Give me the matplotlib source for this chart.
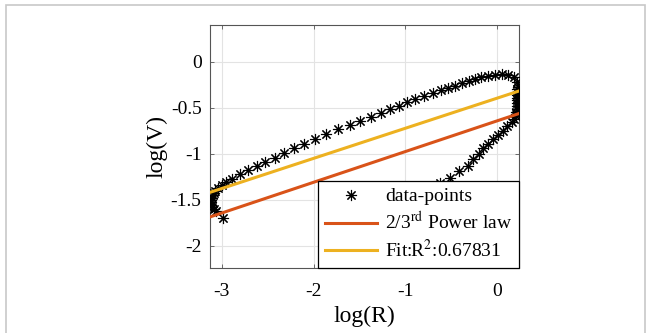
import matplotlib
matplotlib.use("Agg")
import matplotlib.pyplot as plt
from matplotlib.lines import Line2D
from matplotlib.patches import Rectangle

plt.rcParams["font.family"] = "Liberation Serif"
plt.rcParams["mathtext.fontset"] = "stix"
plt.rcParams["axes.unicode_minus"] = False

# data points (loop traced around)
log_r = [
    -3.06, -3.09, -3.11, -3.12, -3.12, -3.12, -3.11, -3.10, -3.09, -3.07,
    -3.04, -3.00, -2.95, -2.89, -2.80, -2.71, -2.62, -2.53, -2.42, -2.32,
    -2.21, -2.10, -1.99, -1.86, -1.73, -1.60, -1.49, -1.37, -1.27, -1.17,
    -1.07, -0.985, -0.89, -0.80, -0.70, -0.61, -0.53, -0.46, -0.385, -0.31,
    -0.24, -0.17, -0.095, -0.02, 0.05, 0.12, 0.185, 0.22, 0.23,
    0.22, 0.215, 0.215, 0.215, 0.215, 0.215, 0.215, 0.215, 0.21, 0.21, 0.205,
    0.19, 0.16, 0.11, 0.06, 0.015, -0.04, -0.095, -0.15, -0.20, -0.26,
    -0.32, -0.41, -0.51, -0.62, -0.75, -0.95, -1.25, -1.65, -2.99,
]
log_v = [
    -1.62, -1.60, -1.575, -1.55, -1.525, -1.50, -1.475, -1.45, -1.425, -1.40,
    -1.37, -1.34, -1.31, -1.27, -1.22, -1.18, -1.13, -1.09, -1.04, -0.99,
    -0.94, -0.89, -0.84, -0.78, -0.73, -0.685, -0.64, -0.60, -0.555, -0.515,
    -0.475, -0.44, -0.40, -0.366, -0.337, -0.31, -0.28, -0.26, -0.235, -0.21,
    -0.185, -0.17, -0.15, -0.14, -0.135, -0.145, -0.17, -0.215, -0.27,
    -0.30, -0.33, -0.36, -0.39, -0.42, -0.45, -0.48, -0.51, -0.54, -0.565, -0.59,
    -0.62, -0.655, -0.70, -0.75, -0.79, -0.84, -0.89, -0.94, -1.00, -1.06,
    -1.13, -1.19, -1.26, -1.315, -1.40, -1.48, -1.56, -1.65, -1.70,
]

# fitted lines (end points)
line_r = [-3.13, 0.23]
power_law_v = [-1.685, -0.565]
fit_v = [-1.418, -0.32]

xticks = [-3, -2, -1, 0]
yticks = [-2, -1.5, -1, -0.5, 0]

fig = plt.figure(figsize=(6.5, 3.33), dpi=100)
fig.patches.append(Rectangle((6 / 650, -0.1), 639 / 650, 1.1 - 5 / 333,
                             transform=fig.transFigure, fill=False,
                             edgecolor="#c8c8c8", linewidth=1.2))
ax = fig.add_axes([0.323, 0.195, 0.4755, 0.730])

star = (8, 2, 0)
ax.plot(log_r, log_v, linestyle="none", marker=star, markersize=8,
        markeredgewidth=0.8, color="black", zorder=3)
ax.plot(line_r, power_law_v, color="#D95319", linewidth=2.2, zorder=4)
ax.plot(line_r, fit_v, color="#EDB120", linewidth=2.2, zorder=4)

ax.set_xlim(-3.13, 0.24)
ax.set_ylim(-2.24, 0.4)
ax.set_xticks(xticks)
ax.set_yticks(yticks)
ax.set_xticklabels(["-3", "-2", "-1", "0"])
ax.set_yticklabels(["-2", "-1.5", "-1", "-0.5", "0"])
ax.tick_params(direction="in", top=True, right=True, length=3,
               width=0.6, color="#555555", labelsize=14, pad=6)
ax.tick_params(axis="x", pad=11)
ax.grid(True, color="#e3e3e3", linewidth=0.8)
ax.set_axisbelow(True)
for s in ax.spines.values():
    s.set_color("#555555")
    s.set_linewidth(0.8)

ax.set_xlabel("log(R)", fontsize=17, labelpad=4)
ax.set_ylabel("log(V)", fontsize=17, labelpad=2)

handles = [
    Line2D([], [], linestyle="none", marker=star, markersize=8,
           markeredgewidth=0.8, color="black"),
    Line2D([], [], color="#D95319", linewidth=2.2),
    Line2D([], [], color="#EDB120", linewidth=2.2),
]
labels = ["data-points", r"2/3$^{\mathrm{rd}}$ Power law", r"Fit:R$^{2}$:0.67831"]
leg = ax.legend(handles, labels, loc="lower right", borderaxespad=0,
                fontsize=14, fancybox=False, framealpha=1, edgecolor="black",
                handlelength=2.7, handletextpad=0.4, borderpad=0.35,
                labelspacing=0.3)
leg.get_frame().set_linewidth(0.9)
leg.set_zorder(5)

fig.savefig("out.png", dpi=100)
